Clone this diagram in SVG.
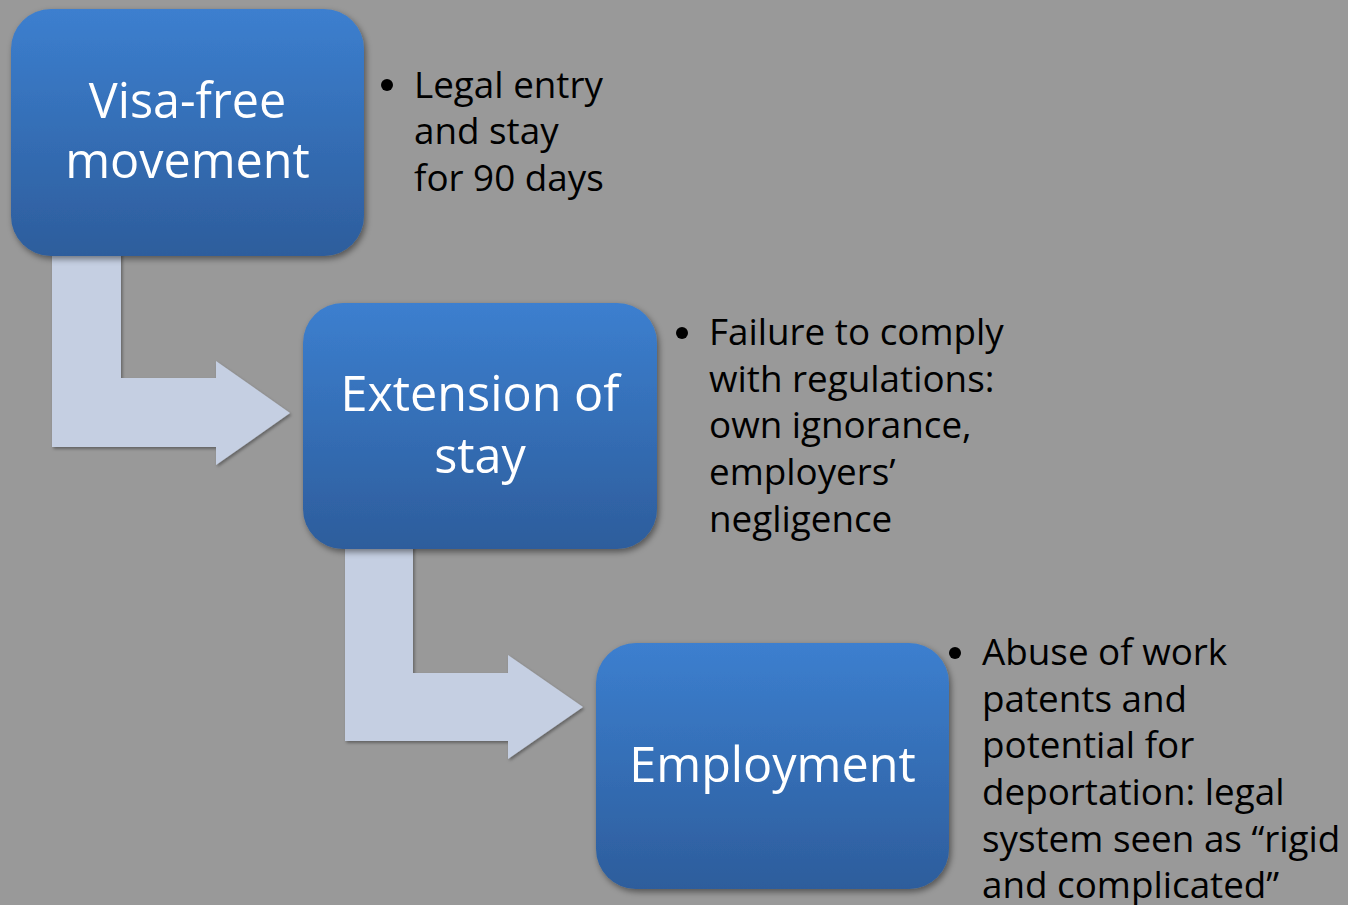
<svg xmlns="http://www.w3.org/2000/svg" width="1348" height="905" viewBox="0 0 1348 905">
<defs>
<linearGradient id="boxg" x1="0" y1="0" x2="0" y2="1">
<stop offset="0" stop-color="#3c7fcf"/>
<stop offset="1" stop-color="#2d5d9c"/>
</linearGradient>
<filter id="sh" x="-10%" y="-10%" width="130%" height="130%">
<feDropShadow dx="2" dy="3" stdDeviation="3" flood-color="#000" flood-opacity="0.45"/>
</filter>
<filter id="ash" x="-10%" y="-10%" width="130%" height="130%">
<feDropShadow dx="1.5" dy="2" stdDeviation="1.5" flood-color="#000" flood-opacity="0.35"/>
</filter>
</defs>
<style>
.box{fill:url(#boxg);filter:url(#sh)}
.arrow{fill:#c5cfe2;filter:url(#ash)}
.bt{font-family:"Open Sans","Noto Sans",sans-serif;font-size:48.5px;fill:#ffffff;text-anchor:middle}
.tx{font-family:"Open Sans","Noto Sans",sans-serif;font-size:36.8px;fill:#000000}
.bul{fill:#000000}
</style>
<rect width="1348" height="905" fill="#999999"/>
<g id="connectors">
<path class="arrow" d="M52,250 L121,250 L121,378 L216,378 L216,361 L290,413 L216,465 L216,447 L52,447 Z"/>
<path class="arrow" d="M345,545 L413,545 L413,673 L508,673 L508,655 L583,707 L508,759 L508,741 L345,741 Z"/>
</g>
<g id="node-visa-free">
<rect class="box" x="11" y="9" width="353" height="247" rx="40" ry="40"/>
<text class="bt" x="187.5" y="118">Visa-free</text>
<text class="bt" x="187.5" y="178">movement</text>
</g>
<g id="node-extension">
<rect class="box" x="303" y="303" width="354" height="246" rx="40" ry="40"/>
<text class="bt" x="480" y="411">Extension of</text>
<text class="bt" x="480" y="473">stay</text>
</g>
<g id="node-employment">
<rect class="box" x="596" y="643" width="353" height="246" rx="40" ry="40"/>
<text class="bt" x="772.5" y="782">Employment</text>
</g>
<g id="note-visa-free">
<circle class="bul" cx="387" cy="85" r="6"/>
<text class="tx" x="414" y="98">Legal entry</text>
<text class="tx" x="414" y="144">and stay</text>
<text class="tx" x="414" y="191">for 90 days</text>
</g>
<g id="note-extension">
<circle class="bul" cx="682" cy="333" r="6"/>
<text class="tx" x="709" y="345">Failure to comply</text>
<text class="tx" x="709" y="392">with regulations:</text>
<text class="tx" x="709" y="438">own ignorance,</text>
<text class="tx" x="709" y="485">employers’</text>
<text class="tx" x="709" y="532">negligence</text>
</g>
<g id="note-employment">
<circle class="bul" cx="955" cy="653" r="6"/>
<text class="tx" x="982" y="665">Abuse of work</text>
<text class="tx" x="982" y="712">patents and</text>
<text class="tx" x="982" y="758">potential for</text>
<text class="tx" x="982" y="805">deportation: legal</text>
<text class="tx" x="982" y="852">system seen as “rigid</text>
<text class="tx" x="982" y="898">and complicated”</text>
</g>
</svg>
